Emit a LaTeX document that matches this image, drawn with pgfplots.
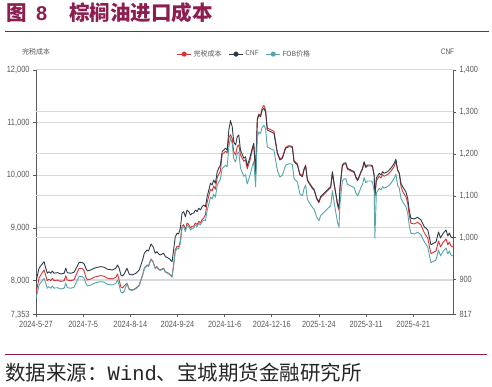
\documentclass[border=0pt]{standalone}
\usepackage{pgfplots}
\pgfplotsset{compat=1.18}
\usepackage{pgfplotstable}
\usepackage{fontspec}
\setmainfont{Liberation Sans}
\newfontfamily\cjk{Noto Sans CJK SC}
\newfontfamily\tickfont[FakeStretch=0.82]{Liberation Sans}
\newfontfamily\monofont{Liberation Mono}
\definecolor{cred}{RGB}{214,52,52}
\definecolor{cdark}{RGB}{45,60,75}
\definecolor{cteal}{RGB}{85,165,170}
\definecolor{maroon}{RGB}{140,30,80}
\definecolor{tgray}{RGB}{89,89,89}
\definecolor{ggray}{RGB}{217,217,217}
\pgfplotstableread{
x cnf cost fob
0 895.3 7757 855.5
1.8 927.3 8042 887.4
3.2 935.1 8124 895.3
4.8 943.0 8200 903.2
5.8 927.3 8090 891.5
6.7 915.3 7995 879.6
7.7 919.1 8025 883.4
8.8 915.3 7995 879.6
9.7 920.8 8039 885.1
10.7 915.3 7995 879.6
12.7 916.8 8006 881.0
14.7 913.7 7982 877.9
16.7 915.3 7995 879.6
17.7 927.3 8090 891.5
18.6 916.8 8006 881.0
20.7 915.3 7995 879.6
22.6 917.7 8014 882.0
24.6 932.7 8162 899.4
25.6 941.6 8232 908.2
27.6 940.6 8225 907.2
28.6 937.5 8181 902.9
29.6 927.3 8061 891.5
30.5 920.8 8010 885.1
32.6 923.2 8029 887.4
34.5 927.3 8061 891.5
36.5 929.6 8080 893.9
38.5 931.1 8092 895.3
40.5 929.6 8080 893.9
42.4 924.9 8042 889.1
45.4 923.2 8029 887.4
47.4 927.3 8061 891.5
48.4 935.1 8124 899.4
49.4 927.3 8004 886.7
50.4 911.3 7877 870.8
51.4 908.9 7858 868.4
52.4 913.7 7896 873.1
54.0 927.3 7947 890.3
55.4 912.9 7833 876.0
57.3 911.3 7820 874.3
59.3 915.3 7852 878.4
61.3 923.2 7915 886.2
63.3 947.0 8105 910.1
64.3 963.0 8232 926.1
65.9 970.9 8295 933.9
66.8 968.5 8276 931.5
68.3 985.2 8409 948.2
69.5 978.7 8358 941.8
70.8 963.0 8232 926.1
71.8 966.8 8263 929.9
72.8 961.3 8219 924.4
73.8 959.0 8200 922.0
75.8 963.0 8232 926.1
76.8 954.9 8168 918.0
78.8 951.1 8137 914.1
80.8 943.0 8073 906.0
81.7 970.9 8295 933.9
82.7 1002.6 8586 966.8
83.8 1010.7 8650 974.9
84.7 1009.0 8637 973.3
85.7 1022.6 8745 986.9
86.7 1058.4 9030 1022.6
87.7 1062.2 9061 1026.4
88.7 1050.3 8966 1014.5
89.7 1066.2 9093 1030.5
90.7 1062.2 9061 1026.4
91.7 1054.3 8998 1018.6
92.7 1058.4 9030 1022.6
93.6 1058.4 9030 1022.6
94.6 1066.2 9093 1030.5
95.7 1062.2 9061 1026.4
96.6 1070.3 9125 1034.5
97.6 1066.2 9093 1030.5
98.6 1074.1 9156 1038.3
99.6 1078.2 9188 1042.4
100.6 1074.1 9251 1040.7
101.6 1097.9 9479 1064.6
102.6 1113.9 9606 1080.5
103.6 1129.9 9733 1096.5
104.6 1125.8 9701 1092.5
105.5 1137.8 9796 1104.4
106.5 1129.9 9733 1096.5
107.6 1157.5 9954 1124.2
108.5 1165.7 10018 1132.3
109.5 1173.5 10081 1140.1
110.5 1205.2 10391 1164.7
111.5 1209.3 10423 1168.8
112.5 1213.3 10455 1172.8
113.5 1209.3 10423 1168.8
114.5 1257.0 10708 1216.4
115.5 1279.1 10771 1238.6
116.5 1264.8 10695 1224.3
117.4 1229.1 10448 1188.5
118.5 1221.2 10385 1180.7
119.5 1241.0 10543 1200.5
120.4 1245.0 10575 1204.5
121.4 1209.3 10385 1166.4
123.4 1189.5 10265 1146.6
124.4 1193.3 10296 1150.4
125.4 1171.1 10119 1128.2
126.9 1189.5 10265 1146.6
128.4 1213.3 10474 1170.4
129.3 1225.3 10569 1182.3
130.4 1156.8 10005 1121.8
131.4 1280.8 11069 1240.3
132.3 1292.7 11164 1252.2
133.3 1288.7 11132 1248.1
134.3 1304.6 11278 1264.1
135.3 1308.7 11329 1268.2
136.3 1300.6 11246 1260.1
137.3 1257.0 10898 1216.4
139.3 1252.9 10866 1212.4
141.3 1249.1 10835 1208.6
143.3 1201.4 10436 1160.9
144.8 1185.4 10309 1144.9
146.3 1189.5 10341 1149.0
148.2 1213.3 10531 1172.8
150.2 1217.1 10562 1176.6
152.2 1215.7 10550 1175.2
153.2 1181.4 10277 1140.9
155.2 1173.5 10214 1133.0
156.7 1149.7 10024 1104.4
158.2 1145.6 9992 1100.3
159.1 1161.6 10119 1116.3
160.1 1171.1 10195 1125.8
161.1 1137.8 9929 1092.5
162.1 1129.9 9866 1084.6
164.1 1118.0 9771 1072.7
165.1 1113.9 9739 1068.6
166.7 1094.1 9543 1048.8
168.0 1086.0 9479 1040.7
169.0 1097.9 9574 1052.6
171.0 1106.1 9638 1060.8
173.0 1113.9 9701 1068.6
175.0 1121.8 9764 1076.5
176.0 1157.5 10049 1112.2
177.0 1129.9 9828 1084.6
178.0 1106.1 9638 1060.8
179.0 1082.2 9429 1036.9
179.9 1070.3 9334 1025.0
180.5 1121.8 9745 1081.3
181.9 1173.5 10176 1135.4
182.9 1177.6 10208 1139.4
183.9 1179.0 10220 1140.9
184.9 1165.7 10113 1127.5
186.9 1161.6 10081 1123.5
188.9 1157.5 10049 1119.4
189.9 1145.6 9954 1107.5
190.9 1137.8 9891 1099.6
191.8 1145.6 9954 1107.5
192.9 1157.5 10049 1119.4
193.9 1165.7 10113 1127.5
194.8 1181.4 10239 1143.2
195.8 1169.5 10144 1131.3
196.8 1173.5 10176 1135.4
198.8 1173.5 10176 1135.4
199.8 1171.1 10157 1133.0
200.8 1149.7 9986 1111.5
201.2 1102.0 9568 999.5
202.1 1142.5 9891 1106.8
203.8 1153.7 9980 1118.0
204.8 1149.7 9948 1113.9
205.8 1157.5 10011 1121.8
206.7 1153.7 9980 1118.0
208.7 1157.5 10011 1121.8
210.7 1165.7 10075 1129.9
212.7 1177.6 10170 1141.8
213.7 1187.1 10265 1151.3
214.7 1161.6 10100 1125.8
215.7 1153.7 10037 1118.0
216.7 1129.9 9790 1094.1
217.7 1121.8 9688 1086.0
219.6 1109.9 9593 1074.1
220.7 1094.1 9467 1058.4
221.6 1066.2 9245 1030.5
222.6 1046.4 9087 1010.7
224.6 1044.8 9074 1009.0
226.6 1048.8 9106 1013.1
228.6 1042.4 9055 1006.6
230.5 1026.4 8909 990.7
232.6 1018.6 8808 978.0
233.5 1002.6 8662 959.7
234.5 983.5 8510 940.6
236.5 987.6 8542 944.7
237.5 990.0 8561 947.0
239.0 1013.8 8751 970.9
240.2 999.5 8637 956.6
241.5 1009.0 8713 966.1
242.4 1013.8 8751 970.9
243.5 1018.6 8789 975.6
244.5 1004.3 8675 961.3
245.4 1011.4 8732 968.5
246.4 1001.9 8656 959.0
247.6 999.5 8637 956.6
}\data
\begin{document}
\begin{tikzpicture}[x=1pt,y=1pt]
\useasboundingbox (0,0) rectangle (492,387);
\fill[white] (0,0) rectangle (492,387);
% title
\node[anchor=base west, inner sep=0, text=maroon, font=\cjk\bfseries\fontsize{20.5}{20.5}\selectfont] at (6,366.4) {图};
\node[anchor=base west, inner sep=0, text=maroon, font=\bfseries\fontsize{20}{20}\selectfont] at (36,366.4) {8};
\node[anchor=base west, inner sep=0, text=maroon, font=\cjk\bfseries\fontsize{20.5}{20.5}\selectfont] at (69,366.4) {棕榈油进口成本};
\draw[maroon, line width=1pt] (5,355) -- (489,355);
% source
\draw[maroon, line width=1pt] (5,32) -- (487,32);
\node[anchor=base west, inner sep=0, text=black!85, font=\cjk\fontsize{20.5}{20.5}\selectfont] at (5,6.7) {数据来源：{\monofont Wind}、宝城期货金融研究所};
% axis titles
\node[text=tgray, font=\cjk\fontsize{7}{7}\selectfont, inner sep=0] at (36,335) {完税成本};
\node[text=tgray, font=\tickfont\fontsize{8}{8}\selectfont, inner sep=0] at (447.5,335) {CNF};
\begin{axis}[
  at={(36pt,72.5pt)}, anchor=south west, width=417pt, height=244.5pt, scale only axis,
  xmin=0, xmax=247.6, ymin=7353, ymax=12000,
  axis x line*=bottom, axis y line*=left,
  axis line style={tgray, line width=0.6pt, -},
  xtick={0,28,...,224},
  xticklabels={2024-5-27,2024-7-5,2024-8-14,2024-9-24,2024-11-6,2024-12-16,2025-1-24,2025-3-11,2025-4-21},
  ytick={7353,8000,9000,10000,11000,12000},
  scaled y ticks=false,
  tick align=outside, major tick length=3pt,
  tick style={tgray, line width=0.6pt},
  ymajorgrids, grid style={ggray, line width=1pt},
  extra y ticks={8014.6,8811.7,9608.7,10405.8,11202.9},
  extra y tick labels={},
  extra y tick style={major tick length=0pt, grid=major},
  tick label style={font=\tickfont\fontsize{9}{9}\selectfont, text=tgray},
  /pgf/number format/assume math mode=true,
  /pgf/number format/1000 sep={,},
]
\addplot[cred, line width=0.9pt, line join=round] table[x=x,y=cost]{\data};
\end{axis}
\begin{axis}[
  at={(36pt,72.5pt)}, anchor=south west, width=417pt, height=244.5pt, scale only axis,
  xmin=0, xmax=247.6, ymin=817, ymax=1400,
  axis x line=none, axis y line*=right,
  axis line style={tgray, line width=0.6pt, -},
  ytick={817,900,1000,1100,1200,1300,1400},
  scaled y ticks=false,
  tick align=outside, major tick length=3pt,
  tick style={tgray, line width=0.6pt},
  tick label style={font=\tickfont\fontsize{9}{9}\selectfont, text=tgray},
  /pgf/number format/assume math mode=true,
  /pgf/number format/1000 sep={,},
  legend style={at={(0.5,1.065)}, anchor=center, draw=none, fill=none, font=\cjk\fontsize{7}{7}\selectfont, text=tgray, legend columns=3, /tikz/every even column/.append style={column sep=5pt}},
  legend image code/.code={\draw[#1, line width=0.8pt] (0pt,0pt) -- (14pt,0pt); \fill[#1] (7pt,0pt) circle (2.3pt);},
]
\addplot[cdark, line width=0.9pt, line join=round, forget plot] table[x=x,y=cnf]{\data};
\addplot[cteal, line width=0.9pt, line join=round, forget plot] table[x=x,y=fob]{\data};
\addlegendimage{cred}\addlegendentry{完税成本}
\addlegendimage{cdark}\addlegendentry{CNF}
\addlegendimage{cteal}\addlegendentry{FOB价格}
\end{axis}
\end{tikzpicture}
\end{document}
